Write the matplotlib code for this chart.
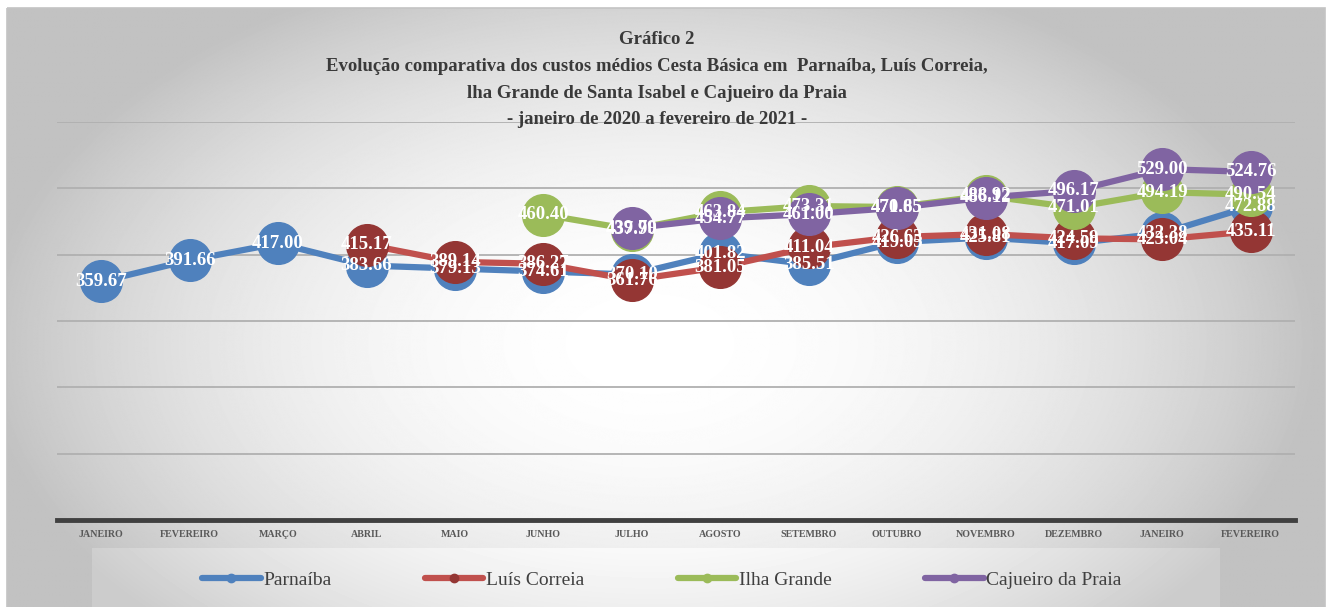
import numpy as np
import matplotlib
matplotlib.use("Agg")
import matplotlib.pyplot as plt
from matplotlib.patches import Rectangle

nan = np.nan
meses = ["JANEIRO", "FEVEREIRO", "MARÇO", "ABRIL", "MAIO", "JUNHO", "JULHO",
         "AGOSTO", "SETEMBRO", "OUTUBRO", "NOVEMBRO", "DEZEMBRO", "JANEIRO", "FEVEREIRO"]

parnaiba = [359.67, 391.66, 417.00, 383.66, 379.13, 374.61, 370.10,
            401.82, 385.51, 419.05, 425.81, 417.09, 432.38, 472.88]
luis_correia = [nan, nan, nan, 415.17, 389.14, 386.27, 361.76,
                381.05, 411.04, 426.63, 431.08, 424.59, 423.04, 435.11]
ilha_grande = [nan, nan, nan, nan, nan, 460.40, 437.90,
               463.84, 473.31, 471.85, 488.92, 471.01, 494.19, 490.54]
cajueiro = [nan, nan, nan, nan, nan, nan, 439.79,
            454.77, 461.00, 470.65, 486.12, 496.17, 529.00, 524.76]

series = [
    ("Parnaíba", parnaiba, "#4F81BD", "#4F81BD"),
    ("Luís Correia", luis_correia, "#C0504D", "#943634"),
    ("Ilha Grande", ilha_grande, "#9BBB59", "#9BBB59"),
    ("Cajueiro da Praia", cajueiro, "#8064A2", "#8064A2"),
]

serif = ["Liberation Serif", "DejaVu Serif"]

W, H = 1333, 607
fig = plt.figure(figsize=(W / 100, H / 100), dpi=100)

# fundo com gradiente radial
bg = fig.add_axes([0, 0, 1, 1], zorder=-10)
bg.axis("off")
yy, xx = np.mgrid[0:H, 0:W]
r = np.sqrt(((xx - 650) / 700.0) ** 2 + ((yy - 340) / 420.0) ** 2)
g = np.clip(1.0 - 0.26 * r ** 2, 0.76, 1.0)
bg.imshow(g, cmap="gray", vmin=0, vmax=1, extent=[7, W - 8, H, 8],
          interpolation="bilinear", zorder=1)
bg.add_patch(Rectangle((7, 8), W - 15, H, fill=False, ec="#c4c4c4", lw=1.2, zorder=2))
# painel da legenda
leg_g = np.minimum(g[548:, 92:1220] + 0.04, 0.975)
bg.imshow(leg_g, cmap="gray", vmin=0, vmax=1,
          extent=[92, 1220, H, 548], interpolation="bilinear", zorder=3)
bg.set_xlim(0, W)
bg.set_ylim(H, 0)

ax = fig.add_axes([57 / W, 87 / H, (1295 - 57) / W, (485 - 87) / H])
ax.patch.set_alpha(0)
ax.set_xlim(-0.5, 13.5)
ax.set_ylim(0, 600)
ax.set_yticks(np.arange(100, 601, 100))
ax.yaxis.grid(True, color="#b0b0b0", lw=1.3)
ax.set_yticklabels([])
ax.tick_params(axis="y", length=0)
for s in ["top", "right", "left"]:
    ax.spines[s].set_visible(False)
ax.spines["bottom"].set_color("#404040")
ax.spines["bottom"].set_linewidth(3.5)
x = np.arange(len(meses))
ax.set_xticks(x)
ax.set_xticklabels(meses, fontsize=7.2, fontweight="bold", color="#595959", family=serif)
ax.tick_params(axis="x", length=0, pad=7)
ax.set_axisbelow(True)

handles = []
for i, (nome, vals, lc, mc) in enumerate(series):
    v = np.array(vals, dtype=float)
    ax.plot(x, v, color=lc, lw=4.5, marker="o", ms=30, mfc=mc, mec=mc,
            solid_capstyle="round", zorder=3 + i)
    h, = ax.plot([], [], color=lc, lw=4.5, marker="o", ms=6, mfc=mc, mec=mc,
                 solid_capstyle="round", label=nome)
    handles.append(h)

for nome, vals, lc, mc in series:
    for xi, vi in zip(x, vals):
        if not np.isnan(vi):
            ax.text(xi, vi, f"{vi:.2f}", ha="center", va="center", color="white",
                    fontsize=13.5, fontweight="bold", family=serif, zorder=20)

fig.legend(handles=handles, loc="center", bbox_to_anchor=(662 / W, 1 - 580 / H),
           ncol=4, frameon=False, handlelength=3.0, columnspacing=4.8,
           handletextpad=0.15, prop={"family": serif, "size": 14})
for t in fig.legends[0].get_texts():
    t.set_color("#404040")

titulo = ["Gráfico 2",
          "Evolução comparativa dos custos médios Cesta Básica em  Parnaíba, Luís Correia,",
          "lha Grande de Santa Isabel e Cajueiro da Praia",
          "- janeiro de 2020 a fevereiro de 2021 -"]
for k, linha in enumerate(titulo):
    fig.text(657 / W, 1 - (40 + k * 26.5) / H, linha, ha="center", va="center",
             fontsize=13.5, fontweight="bold", color="#3a3a3a", family=serif)

fig.savefig("out.png", dpi=100)
